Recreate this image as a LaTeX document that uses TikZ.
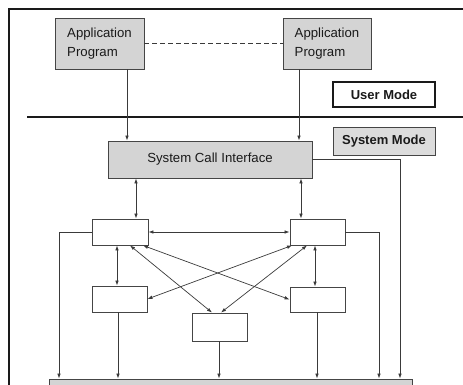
\documentclass[tikz,border=0pt]{standalone}
\usepackage{fontspec}
\setmainfont{Liberation Sans}
\usetikzlibrary{arrows.meta}
\definecolor{ink}{HTML}{1A1A1A}
\definecolor{linecol}{HTML}{3A3A3A}
\definecolor{boxline}{HTML}{454545}
\definecolor{boxgray}{HTML}{D4D4D4}
\definecolor{modegray}{HTML}{DCDCDC}
\begin{document}
\begin{tikzpicture}[x=1pt,y=-1pt,
  box/.style={draw=boxline,line width=0.9pt,inner sep=0pt,rectangle},
  graybox/.style={box,fill=boxgray},
  lbl/.style={font=\fontsize{13.2}{19.5}\selectfont,text=ink},
  modelbl/.style={font=\fontsize{13}{15}\selectfont\bfseries,text=ink},
  conn/.style={draw=linecol,line width=0.7pt},
  arr/.style={conn,-{Latex[length=5pt,width=3.6pt]}},
  darr/.style={conn,{Latex[length=5pt,width=3.6pt]}-{Latex[length=5pt,width=3.6pt]}},
]
\useasboundingbox (0,0) rectangle (463,384);
\clip (0,0) rectangle (463,384);

% outer frame and the user/system boundary
\draw[line width=1.2pt,draw=ink] (9,395) -- (9,9) -- (470,9);
\draw[line width=2.8pt,draw=ink] (27,117) -- (470,117);

% user programs
\node[graybox,lbl,align=left,minimum width=89pt,minimum height=51pt] (app1) at (99.5,43.5) {Application\\Program};
\node[graybox,lbl,align=left,minimum width=88pt,minimum height=51pt] (app2) at (327,43.5) {Application\\Program};

% mode labels
\node[box,draw=ink,line width=1.2pt,fill=white,modelbl,minimum width=102pt,minimum height=25pt] (user) at (384,94.5) {User Mode};
\node[box,fill=modegray,modelbl,minimum width=102pt,minimum height=28pt] (sysmode) at (384,141) {System Mode};

% kernel
\node[graybox,lbl,minimum width=204pt,minimum height=37pt] (sci) at (210,159.5) {System Call Interface};
\node[box,minimum width=56pt,minimum height=26pt] (ul) at (120,232) {};
\node[box,minimum width=55pt,minimum height=26pt] (ur) at (317.5,232) {};
\node[box,minimum width=55pt,minimum height=26pt] (ml) at (119.5,299) {};
\node[box,minimum width=55pt,minimum height=25pt] (mr) at (317.5,299.5) {};
\node[box,minimum width=55pt,minimum height=28pt] (cb) at (219.5,327) {};
\node[graybox,minimum width=363pt,minimum height=22pt] (hw) at (230.5,390) {};

% x positions of the vertical links
\coordinate (xa) at (127,0);
\coordinate (xb) at (299,0);
\coordinate (xc) at (136,0);
\coordinate (xd) at (301,0);
\coordinate (xe) at (117,0);
\coordinate (xf) at (315,0);
\coordinate (xg) at (118,0);
\coordinate (xh) at (219,0);
\coordinate (xi) at (317,0);
\coordinate (xl) at (59,0);
\coordinate (xr) at (379,0);
\coordinate (xs) at (400,0);

% user to kernel
\draw[conn,dashed,dash pattern=on 5pt off 3pt] (app1.east) -- (app2.west);
\draw[arr] (app1.south -| xa) -- (sci.north -| xa);
\draw[arr] (app2.south -| xb) -- (sci.north -| xb);

% interface to modules
\draw[darr] (sci.south -| xc) -- (ul.north -| xc);
\draw[darr] (sci.south -| xd) -- (ur.north -| xd);
\draw[darr] (ul.east) -- (ur.west);
\draw[darr] (ul.south -| xe) -- (ml.north -| xe);
\draw[darr] (ur.south -| xf) -- (mr.north -| xf);

% crossing links
\draw[darr] ([xshift=10pt]ul.south) -- ([xshift=-7.5pt]cb.north);
\draw[darr] ([xshift=23pt]ul.south) -- (mr.west);
\draw[darr] ([xshift=-25.5pt]ur.south) -- (ml.east);
\draw[darr] ([xshift=-10.5pt]ur.south) -- ([xshift=1.5pt]cb.north);

% down to the bottom layer
\draw[arr] (ml.south -| xg) -- (hw.north -| xg);
\draw[arr] (cb.south -| xh) -- (hw.north -| xh);
\draw[arr] (mr.south -| xi) -- (hw.north -| xi);
\draw[arr] (ul.west) -| (hw.north -| xl);
\draw[arr] (ur.east) -| (hw.north -| xr);
\draw[arr] (sci.east) -| (hw.north -| xs);
\end{tikzpicture}
\end{document}
